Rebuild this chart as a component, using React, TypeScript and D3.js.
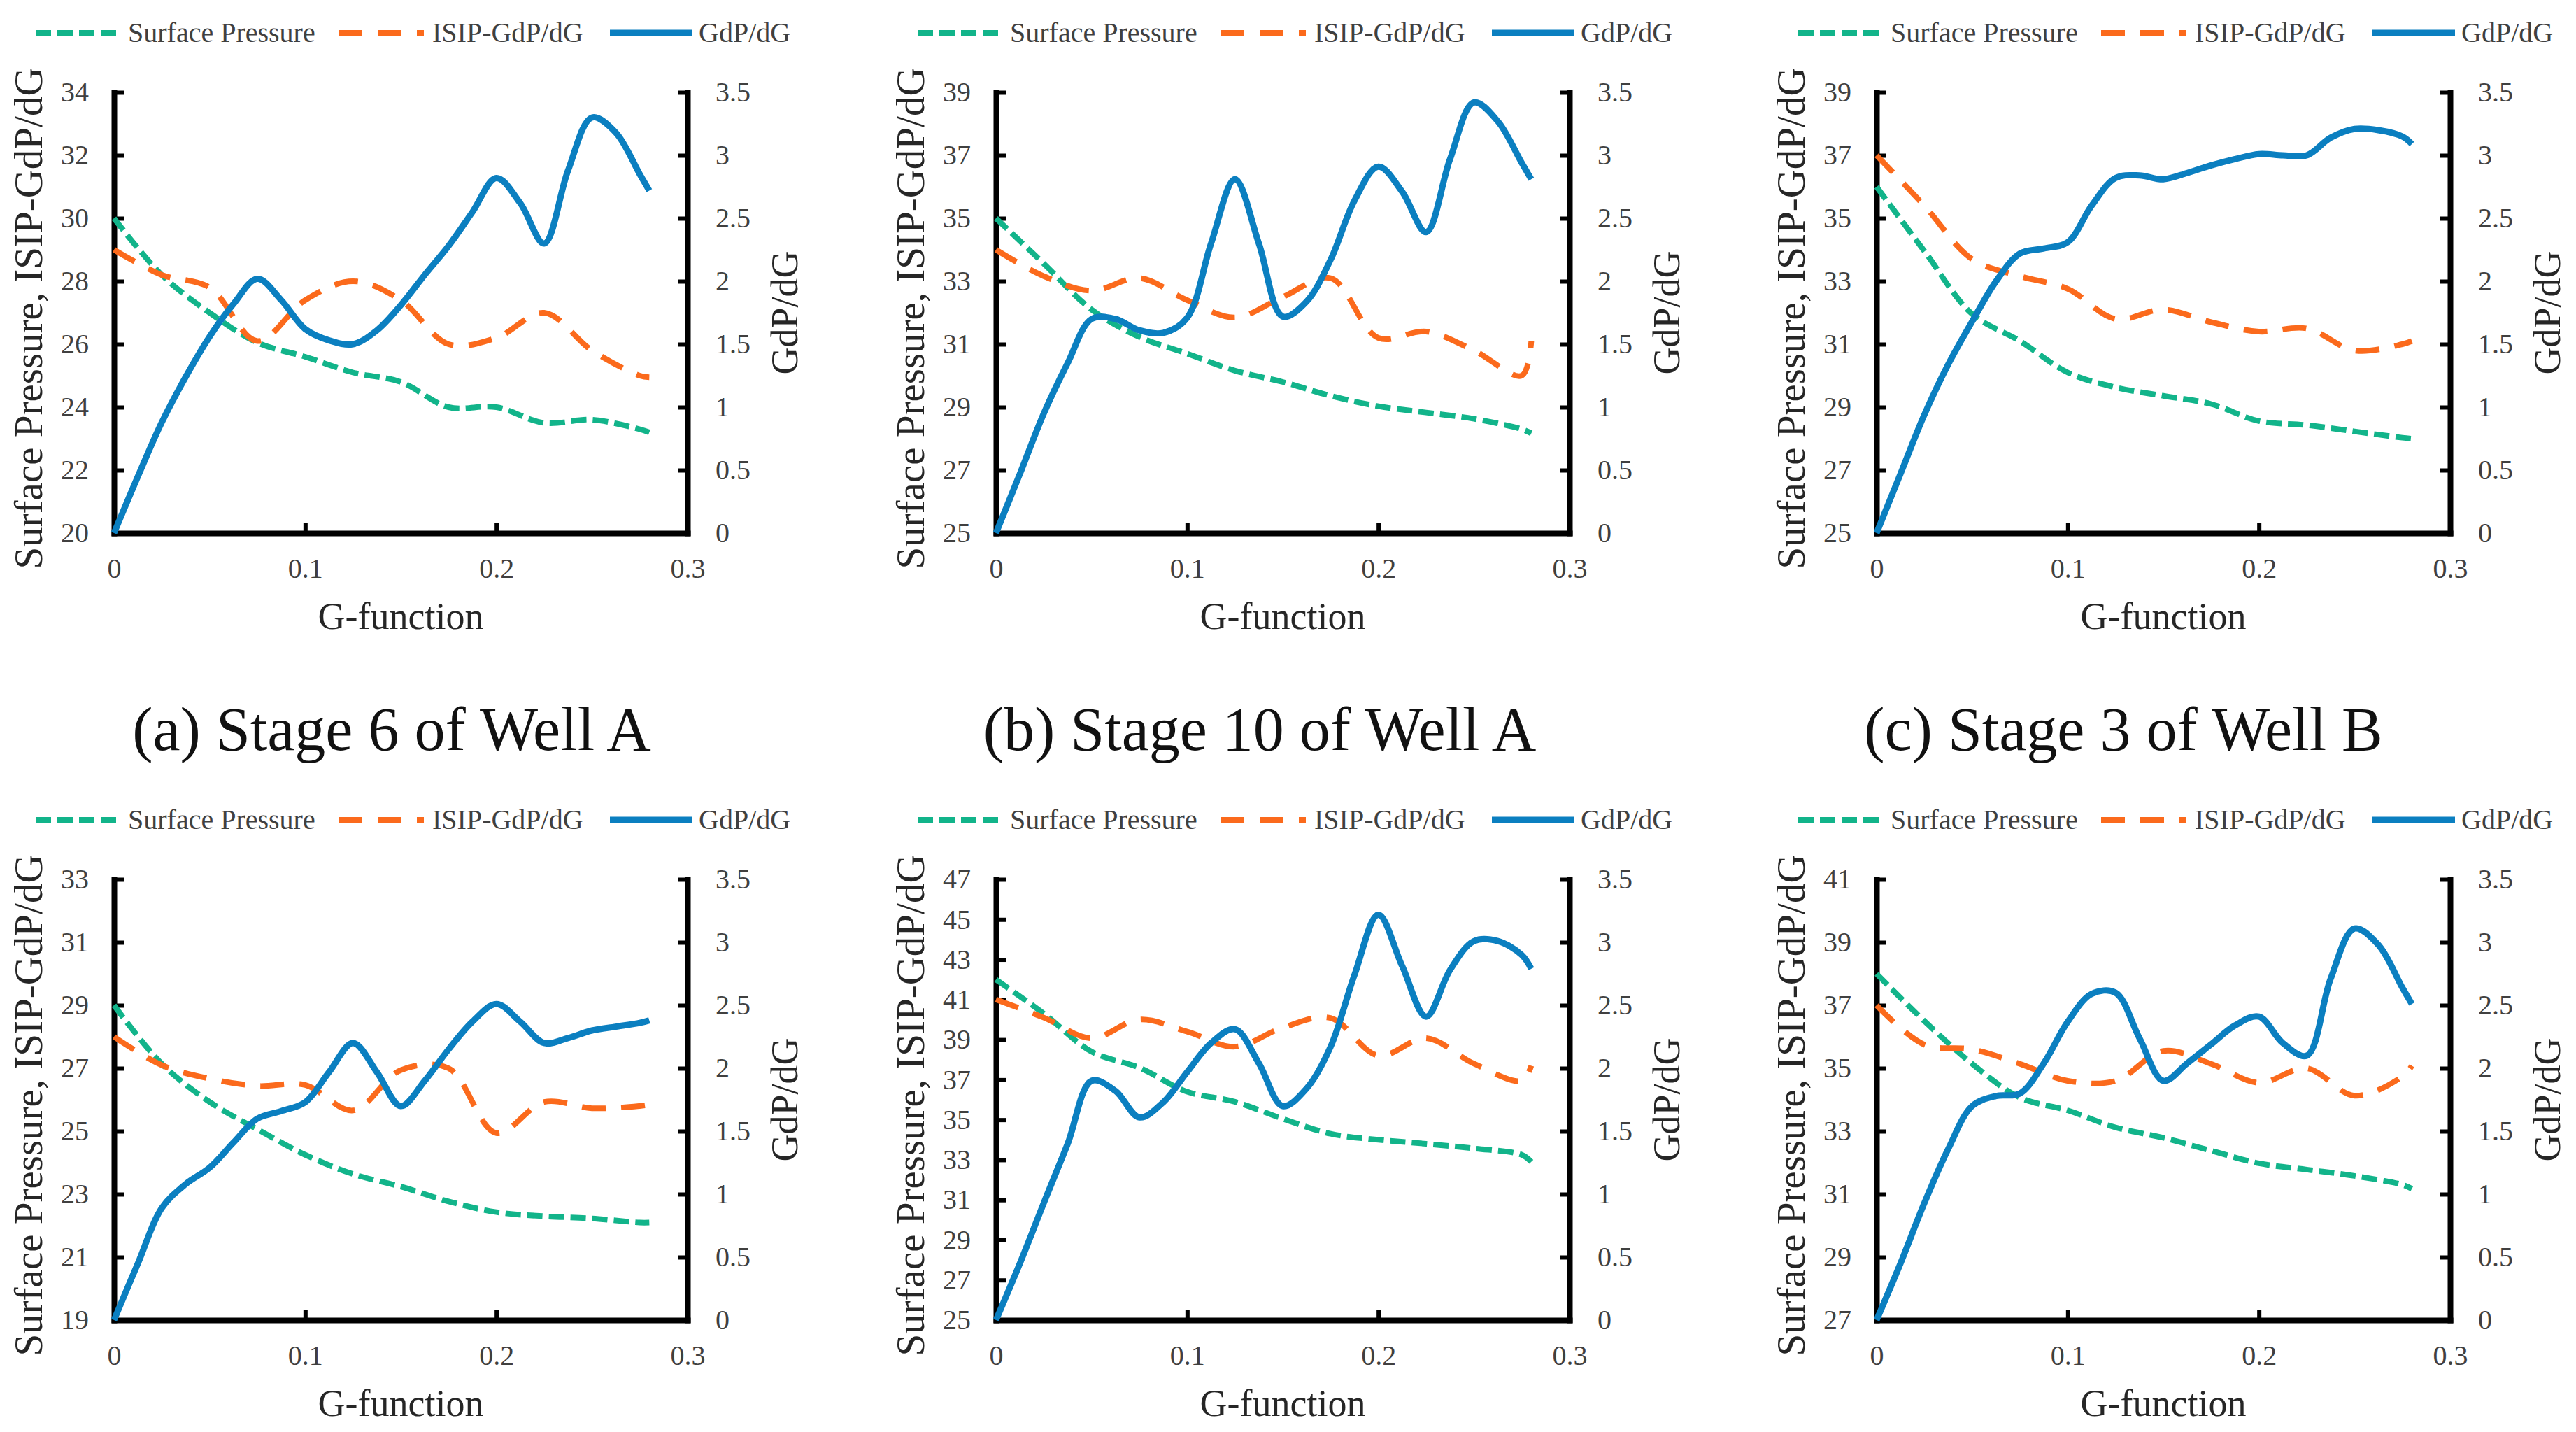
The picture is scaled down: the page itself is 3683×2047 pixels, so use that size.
import React, { useEffect, useRef } from 'react';
import * as d3 from 'd3';

// G-function sample points (coarse for pressures, fine for GdP/dG)
const G_COARSE = [0, 0.025, 0.05, 0.075, 0.1, 0.125, 0.15, 0.175, 0.2, 0.225, 0.25, 0.275, 0.28];
const G_FINE = [
  0, 0.0125, 0.025, 0.0375, 0.05, 0.0625, 0.075, 0.0875, 0.1, 0.1125, 0.125, 0.1375,
  0.15, 0.1625, 0.175, 0.1875, 0.2, 0.2125, 0.225, 0.2375, 0.25, 0.2625, 0.275, 0.28,
];

// (a) Stage 6 of Well A
const surfaceA = [30, 28.2, 27.0, 26.05, 25.6, 25.1, 24.8, 24.0, 24.0, 23.5, 23.6, 23.3, 23.2];
const isipA = [29, 28.2, 27.8, 26.1, 27.4, 28.0, 27.4, 26.0, 26.2, 27.0, 25.8, 25.0, 24.95];
const gdpA = [
  0, 0.45, 0.88, 1.24, 1.56, 1.82, 2.02, 1.85, 1.62, 1.53, 1.5, 1.61,
  1.81, 2.05, 2.28, 2.55, 2.82, 2.62, 2.3, 2.88, 3.3, 3.18, 2.85, 2.72,
];

// (b) Stage 10 of Well A
const surfaceB = [35, 33.56, 32.1, 31.23, 30.7, 30.16, 29.8, 29.36, 29.03, 28.83, 28.63, 28.3, 28.17];
const isipB = [34, 33.16, 32.7, 33.1, 32.4, 31.85, 32.5, 33.1, 31.2, 31.4, 30.8, 30.0, 31.1];
const gdpB = [
  0, 0.47, 0.95, 1.35, 1.7, 1.7, 1.61, 1.59, 1.71, 2.3, 2.81, 2.3,
  1.72, 1.84, 2.17, 2.64, 2.91, 2.71, 2.39, 2.97, 3.42, 3.27, 2.94, 2.81,
];

// (c) Stage 3 of Well B
const surfaceC = [36, 33.96, 31.96, 31.1, 30.1, 29.63, 29.36, 29.1, 28.56, 28.43, 28.23, 28.03, 28.0];
const isipC = [37, 35.4, 33.7, 33.16, 32.76, 31.8, 32.1, 31.7, 31.4, 31.5, 30.8, 31.0, 31.1];
const gdpC = [
  0, 0.47, 0.94, 1.34, 1.68, 2.0, 2.22, 2.26, 2.31, 2.6, 2.82, 2.84,
  2.81, 2.86, 2.92, 2.97, 3.01, 3.0, 3.0, 3.14, 3.21, 3.2, 3.15, 3.09,
];

// (d)
const surfaceD = [29, 27.14, 25.93, 25.06, 24.25, 23.64, 23.24, 22.77, 22.43, 22.3, 22.23, 22.1, 22.1];
const isipD = [28, 27.1, 26.67, 26.44, 26.47, 25.66, 26.94, 27.0, 24.94, 25.93, 25.73, 25.8, 25.84];
const gdpD = [
  0, 0.45, 0.89, 1.08, 1.21, 1.41, 1.6, 1.66, 1.73, 1.97, 2.2, 1.97,
  1.7, 1.9, 2.15, 2.37, 2.51, 2.37, 2.2, 2.24, 2.3, 2.33, 2.36, 2.38,
];

// (e)
const surfaceE = [42, 40.3, 38.4, 37.6, 36.4, 35.9, 35.05, 34.3, 34.0, 33.8, 33.57, 33.25, 32.9];
const isipE = [41, 40.1, 39.07, 40.0, 39.4, 38.65, 39.6, 40.08, 38.2, 39.07, 37.8, 36.95, 37.7];
const gdpE = [
  0, 0.45, 0.93, 1.4, 1.9, 1.82, 1.61, 1.73, 1.97, 2.2, 2.31, 2.04,
  1.7, 1.84, 2.17, 2.74, 3.22, 2.81, 2.41, 2.78, 3.01, 3.01, 2.9, 2.79,
];

// (f)
const surfaceF = [38, 36.5, 35.14, 34.07, 33.66, 33.12, 32.79, 32.38, 31.98, 31.78, 31.58, 31.3, 31.17];
const isipF = [37, 35.75, 35.6, 35.14, 34.6, 34.6, 35.55, 35.14, 34.54, 35.0, 34.13, 34.74, 35.08];
const gdpF = [
  0, 0.45, 0.93, 1.36, 1.7, 1.78, 1.8, 2.04, 2.37, 2.59, 2.6, 2.24,
  1.9, 2.04, 2.19, 2.34, 2.41, 2.2, 2.1, 2.71, 3.11, 2.98, 2.64, 2.51,
];

const leftDomains: [number, number][] = [[20, 34], [25, 39], [25, 39], [19, 33], [25, 47], [27, 41]];
const rightTicks = [0, 0.5, 1, 1.5, 2, 2.5, 3, 3.5];
const xTicks = [0, 0.1, 0.2, 0.3];
const captions = ['(a) Stage 6 of Well A', '(b) Stage 10 of Well A', '(c) Stage 3 of Well B'];
const seriesNames = ['Surface Pressure', 'ISIP-GdP/dG', 'GdP/dG'];

const panelData = [
  { surface: surfaceA, isip: isipA, gdp: gdpA },
  { surface: surfaceB, isip: isipB, gdp: gdpB },
  { surface: surfaceC, isip: isipC, gdp: gdpC },
  { surface: surfaceD, isip: isipD, gdp: gdpD },
  { surface: surfaceE, isip: isipE, gdp: gdpE },
  { surface: surfaceF, isip: isipF, gdp: gdpF },
];

// layout
const W = 3683;
const H = 2047;
const PLOT_W = 820;
const PLOT_H = 630;
const COL_X = [163, 1424, 2683];
const ROW_Y = [132, 1257];
const CAPTION_X = [560, 1801, 3036];
const CAPTION_Y = 1072;

const GREEN = '#12b48a';
const ORANGE = '#fb6a1c';
const BLUE = '#0b7fc0';
const SERIF = '"Liberation Serif", "Times New Roman", serif';

const styles = [
  { color: GREEN, dash: '22 9', width: 8 },
  { color: ORANGE, dash: '34 22', width: 8 },
  { color: BLUE, dash: 'none', width: 9 },
];

interface PanelProps {
  left: number;
  top: number;
  yDomain: [number, number];
  surface: number[];
  isip: number[];
  gdp: number[];
}

const Panel: React.FC<PanelProps> = ({ left, top, yDomain, surface, isip, gdp }) => {
  const axesRef = useRef<SVGGElement>(null);

  const x = d3.scaleLinear().domain([0, 0.3]).range([0, PLOT_W]);
  const yL = d3.scaleLinear().domain(yDomain).range([PLOT_H, 0]);
  const yR = d3.scaleLinear().domain([0, 3.5]).range([PLOT_H, 0]);

  const leftTicks = d3.range(yDomain[0], yDomain[1] + 0.01, 2);

  useEffect(() => {
    if (!axesRef.current) return;
    const g = d3.select(axesRef.current);
    g.selectAll('*').remove();

    const style = (sel: d3.Selection<SVGGElement, unknown, null, undefined>) => {
      sel.attr('font-family', SERIF).attr('font-size', 40);
      sel.select('.domain').attr('stroke', '#000').attr('stroke-width', 8).attr('stroke-linecap', 'square');
      sel.selectAll('.tick line').attr('stroke', '#000').attr('stroke-width', 6);
      sel.selectAll('.tick text').attr('fill', '#404040');
    };

    g.append('g')
      .attr('transform', `translate(0,${PLOT_H})`)
      .call(d3.axisBottom(x).tickValues(xTicks).tickFormat(d => String(+(+d).toFixed(2)))
        .tickSizeInner(-14).tickSizeOuter(0).tickPadding(36))
      .call(style);

    g.append('g')
      .call(d3.axisLeft(yL).tickValues(leftTicks).tickFormat(d => String(d))
        .tickSizeInner(-14).tickSizeOuter(0).tickPadding(36))
      .call(style);

    g.append('g')
      .attr('transform', `translate(${PLOT_W},0)`)
      .call(d3.axisRight(yR).tickValues(rightTicks).tickFormat(d => String(d))
        .tickSizeInner(-14).tickSizeOuter(0).tickPadding(40))
      .call(style);
  }, [left, top, yDomain[0], yDomain[1]]);

  const lineL = d3.line<number>()
    .x((_, i) => x(G_COARSE[i]))
    .y(d => yL(d))
    .curve(d3.curveCatmullRom);
  const lineR = d3.line<number>()
    .x((_, i) => x(G_FINE[i]))
    .y(d => yR(d))
    .curve(d3.curveCatmullRom);

  const paths = [lineL(surface), lineL(isip), lineR(gdp)];

  // legend item offsets relative to plot left
  const legendItems = [
    { x0: -112, x1: 6, tx: 20 },
    { x0: 321, x1: 443, tx: 455 },
    { x0: 709, x1: 827, tx: 836 },
  ];
  const legendY = -85;

  return (
    <g transform={`translate(${left},${top})`}>
      {legendItems.map((it, i) => (
        <g key={i}>
          <line x1={it.x0} x2={it.x1} y1={legendY} y2={legendY}
            stroke={styles[i].color} strokeWidth={styles[i].width} strokeDasharray={styles[i].dash} />
          <text x={it.tx} y={legendY + 13} fontFamily={SERIF} fontSize={40} fill="#404040">
            {seriesNames[i]}
          </text>
        </g>
      ))}
      <g ref={axesRef} />
      {paths.map((p, i) => (
        <path key={i} d={p || ''} fill="none" stroke={styles[i].color}
          strokeWidth={styles[i].width} strokeDasharray={styles[i].dash} strokeLinejoin="round" />
      ))}
      <text x={PLOT_W / 2} y={PLOT_H + 137} textAnchor="middle" fontFamily={SERIF} fontSize={54} fill="#262626">
        G-function
      </text>
      <text transform={`translate(-103,${PLOT_H / 2 + 8}) rotate(-90)`} textAnchor="middle"
        fontFamily={SERIF} fontSize={57} fill="#262626">
        Surface Pressure, ISIP-GdP/dG
      </text>
      <text transform={`translate(${PLOT_W + 157},${PLOT_H / 2}) rotate(-90)`} textAnchor="middle"
        fontFamily={SERIF} fontSize={54} fill="#262626">
        GdP/dG
      </text>
    </g>
  );
};

export default function App() {
  return (
    <div style={{ position: 'fixed', left: 0, top: 0, width: W, height: H, background: '#fff' }}>
      <svg width={W} height={H} viewBox={`0 0 ${W} ${H}`} style={{ display: 'block' }}>
        <rect width={W} height={H} fill="#fff" />
        {panelData.map((p, i) => (
          <Panel key={i}
            left={COL_X[i % 3]}
            top={ROW_Y[Math.floor(i / 3)]}
            yDomain={leftDomains[i]}
            surface={p.surface}
            isip={p.isip}
            gdp={p.gdp} />
        ))}
        {captions.map((c, i) => (
          <text key={c} x={CAPTION_X[i]} y={CAPTION_Y} textAnchor="middle"
            fontFamily={SERIF} fontSize={88} fill="#111">
            {c}
          </text>
        ))}
      </svg>
    </div>
  );
}
